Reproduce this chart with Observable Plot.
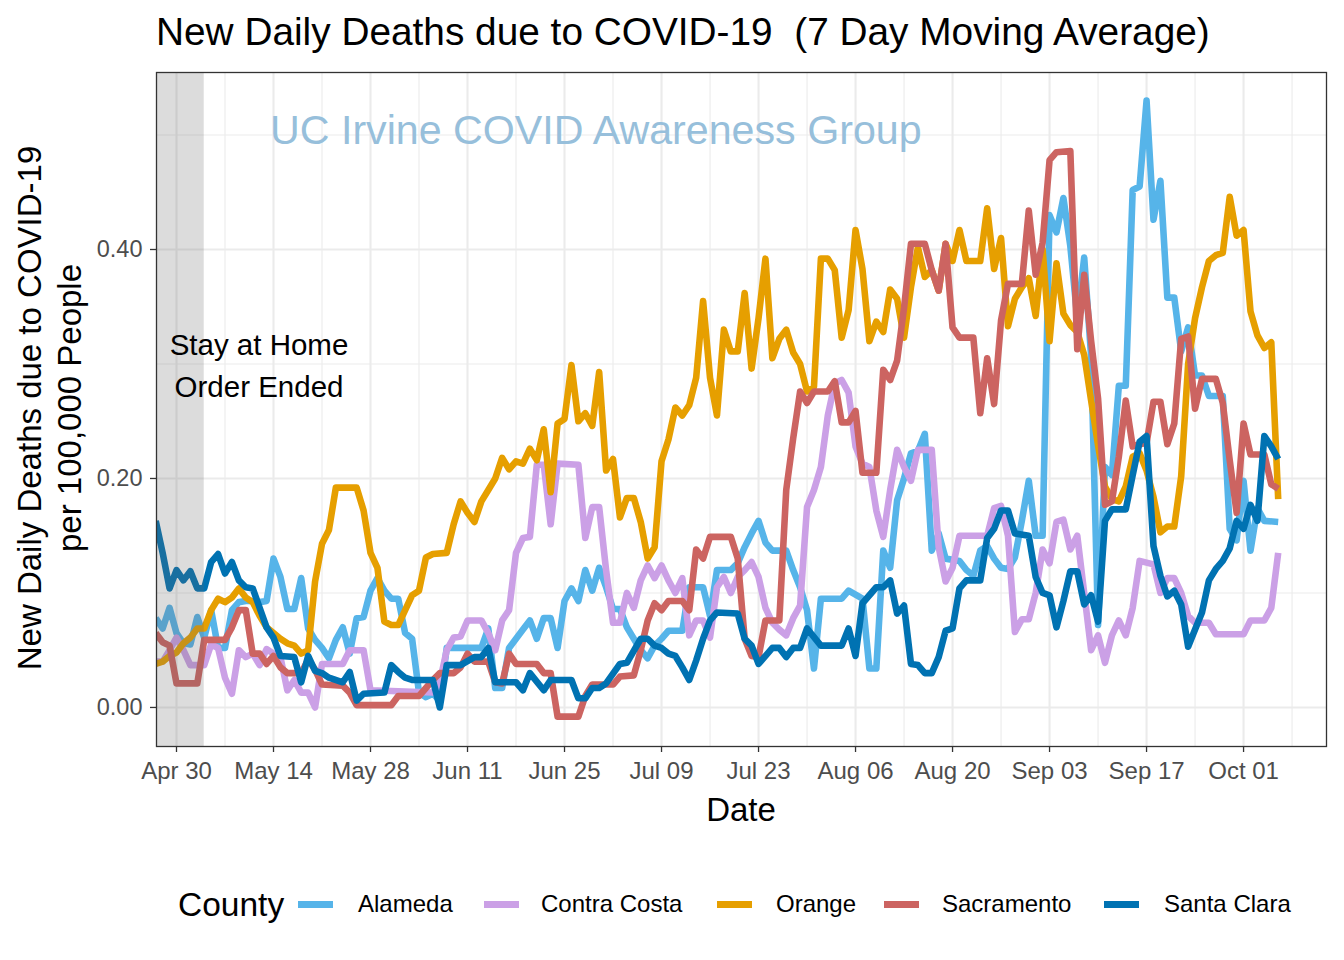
<!DOCTYPE html>
<html>
<head>
<meta charset="utf-8">
<script src="https://cdn.jsdelivr.net/npm/d3@7"></script>
<script src="https://cdn.jsdelivr.net/npm/@observablehq/plot@0.6"></script>
<style>
  html, body { margin: 0; padding: 0; background: #ffffff; }
  #wrap { position: relative; width: 1344px; height: 960px; overflow: hidden; font-family: "Liberation Sans", Arial, Helvetica, sans-serif; color: #000; }
  #wrap svg { position: absolute; left: 0; top: 0; }
  .t { position: absolute; white-space: pre; line-height: 1; }
</style>
</head>
<body>
<div id="wrap"></div>
<script>
// ---------------- data ----------------
const countyNames  = ["Alameda", "Contra Costa", "Orange", "Sacramento", "Santa Clara"];
const countyColors = ["#56B4E9", "#CBA0E6", "#E69F00", "#CC6461", "#0072B2"];

const alameda = [
["04-27",0.078],["04-28",0.069],["04-29",0.087],["04-30",0.065],["05-01",0.056],["05-02",0.055],["05-03",0.079],["05-04",0.061],["05-05",0.085],["05-06",0.052],["05-07",0.052],["05-08",0.085],["05-09",0.092],["05-10",0.093],["05-11",0.093],["05-12",0.092],["05-13",0.093],["05-14",0.130],["05-15",0.114],["05-16",0.086],["05-17",0.086],["05-18",0.113],["05-19",0.069],["05-20",0.059],["05-21",0.052],["05-22",0.043],["05-23",0.059],["05-24",0.070],["05-25",0.047],["05-26",0.078],["05-27",0.079],["05-28",0.102],["05-29",0.113],["05-30",0.102],["05-31",0.095],["06-01",0.095],["06-02",0.065],["06-03",0.060],["06-04",0.013],["06-05",0.009],["06-06",0.012],["06-07",0.006],["06-08",0.052],["06-13",0.052],["06-14",0.069],["06-15",0.017],["06-16",0.017],["06-17",0.052],["06-18",0.060],["06-19",0.068],["06-20",0.076],["06-21",0.060],["06-22",0.078],["06-23",0.078],["06-24",0.052],["06-25",0.093],["06-26",0.104],["06-27",0.093],["06-28",0.120],["06-29",0.102],["06-30",0.122],["07-01",0.105],["07-02",0.086],["07-03",0.086],["07-04",0.070],["07-05",0.060],["07-06",0.050],["07-07",0.043],["07-08",0.054],["07-09",0.060],["07-10",0.067],["07-12",0.067],["07-13",0.105],["07-15",0.105],["07-16",0.080],["07-17",0.120],["07-19",0.120],["07-20",0.126],["07-21",0.140],["07-22",0.152],["07-23",0.163],["07-24",0.144],["07-25",0.137],["07-27",0.137],["07-28",0.120],["07-29",0.105],["07-30",0.085],["07-31",0.034],["08-01",0.095],["08-04",0.095],["08-05",0.102],["08-07",0.095],["08-08",0.034],["08-09",0.034],["08-10",0.137],["08-11",0.122],["08-12",0.181],["08-13",0.200],["08-14",0.222],["08-15",0.224],["08-16",0.239],["08-17",0.137],["08-18",0.152],["08-19",0.130],["08-21",0.128],["08-22",0.120],["08-23",0.115],["08-24",0.137],["08-25",0.141],["08-26",0.130],["08-27",0.122],["08-28",0.121],["08-29",0.131],["08-30",0.163],["08-31",0.198],["09-01",0.150],["09-02",0.150],["09-03",0.430],["09-04",0.415],["09-05",0.445],["09-06",0.403],["09-07",0.340],["09-08",0.393],["09-09",0.307],["09-10",0.072],["09-11",0.210],["09-12",0.203],["09-13",0.281],["09-14",0.281],["09-15",0.452],["09-16",0.455],["09-17",0.530],["09-18",0.426],["09-19",0.460],["09-20",0.358],["09-21",0.358],["09-22",0.311],["09-23",0.332],["09-24",0.290],["09-25",0.290],["09-26",0.272],["09-28",0.272],["09-29",0.156],["09-30",0.146],["10-01",0.198],["10-02",0.137],["10-03",0.174],["10-04",0.163],["10-06",0.162]
];

const contraCosta = [
["04-27",0.040],["04-28",0.040],["04-29",0.050],["04-30",0.061],["05-01",0.050],["05-02",0.037],["05-04",0.037],["05-05",0.055],["05-06",0.052],["05-07",0.026],["05-08",0.012],["05-09",0.050],["05-10",0.044],["05-11",0.047],["05-12",0.037],["05-13",0.051],["05-14",0.047],["05-15",0.044],["05-16",0.015],["05-17",0.024],["05-18",0.013],["05-19",0.013],["05-20",0.000],["05-21",0.038],["05-24",0.038],["05-25",0.050],["05-27",0.050],["05-28",0.015],["06-06",0.013],["06-07",0.022],["06-08",0.050],["06-09",0.061],["06-10",0.062],["06-11",0.076],["06-13",0.076],["06-14",0.065],["06-15",0.050],["06-16",0.076],["06-17",0.085],["06-18",0.135],["06-19",0.148],["06-20",0.149],["06-21",0.212],["06-22",0.212],["06-23",0.160],["06-24",0.213],["06-27",0.212],["06-28",0.148],["06-29",0.175],["06-30",0.175],["07-01",0.120],["07-02",0.074],["07-03",0.074],["07-04",0.100],["07-05",0.087],["07-06",0.111],["07-07",0.124],["07-08",0.113],["07-09",0.124],["07-10",0.111],["07-11",0.100],["07-12",0.113],["07-13",0.063],["07-14",0.076],["07-15",0.076],["07-16",0.061],["07-17",0.105],["07-18",0.114],["07-19",0.100],["07-20",0.114],["07-21",0.120],["07-22",0.127],["07-23",0.114],["07-24",0.087],["07-25",0.074],["07-26",0.068],["07-27",0.063],["07-28",0.078],["07-29",0.089],["07-30",0.175],["07-31",0.190],["08-01",0.210],["08-02",0.255],["08-03",0.283],["08-04",0.286],["08-05",0.275],["08-06",0.228],["08-07",0.213],["08-08",0.210],["08-09",0.172],["08-10",0.149],["08-11",0.190],["08-12",0.225],["08-13",0.210],["08-14",0.198],["08-15",0.225],["08-17",0.225],["08-18",0.140],["08-19",0.110],["08-20",0.122],["08-21",0.150],["08-25",0.150],["08-26",0.174],["08-27",0.176],["08-28",0.150],["08-29",0.066],["08-30",0.077],["08-31",0.077],["09-01",0.100],["09-02",0.138],["09-03",0.126],["09-04",0.162],["09-05",0.164],["09-06",0.138],["09-07",0.150],["09-08",0.100],["09-09",0.050],["09-10",0.063],["09-11",0.039],["09-12",0.063],["09-13",0.076],["09-14",0.063],["09-15",0.087],["09-16",0.128],["09-18",0.125],["09-19",0.100],["09-20",0.113],["09-21",0.113],["09-22",0.100],["09-23",0.080],["09-24",0.074],["09-26",0.074],["09-27",0.064],["10-01",0.064],["10-02",0.076],["10-04",0.076],["10-05",0.087],["10-06",0.135]
];

const orange = [
["04-27",0.038],["04-28",0.040],["04-29",0.045],["04-30",0.048],["05-01",0.056],["05-02",0.061],["05-03",0.069],["05-04",0.069],["05-05",0.085],["05-06",0.095],["05-07",0.092],["05-08",0.096],["05-09",0.104],["05-10",0.096],["05-11",0.092],["05-12",0.080],["05-13",0.070],["05-14",0.065],["05-15",0.060],["05-16",0.056],["05-17",0.054],["05-18",0.047],["05-19",0.050],["05-20",0.110],["05-21",0.143],["05-22",0.155],["05-23",0.192],["05-26",0.192],["05-27",0.172],["05-28",0.135],["05-29",0.122],["05-30",0.075],["05-31",0.072],["06-01",0.072],["06-02",0.085],["06-03",0.098],["06-04",0.102],["06-05",0.131],["06-06",0.134],["06-08",0.135],["06-09",0.160],["06-10",0.180],["06-11",0.170],["06-12",0.162],["06-13",0.180],["06-14",0.190],["06-15",0.200],["06-16",0.218],["06-17",0.208],["06-18",0.215],["06-19",0.213],["06-20",0.226],["06-21",0.216],["06-22",0.243],["06-23",0.188],["06-24",0.248],["06-25",0.252],["06-26",0.299],["06-27",0.250],["06-28",0.257],["06-29",0.246],["06-30",0.293],["07-01",0.207],["07-02",0.217],["07-03",0.166],["07-04",0.183],["07-05",0.183],["07-06",0.162],["07-07",0.130],["07-08",0.140],["07-09",0.215],["07-10",0.234],["07-11",0.262],["07-12",0.255],["07-13",0.264],["07-14",0.288],["07-15",0.355],["07-16",0.288],["07-17",0.255],["07-18",0.330],["07-19",0.311],["07-20",0.311],["07-21",0.362],["07-22",0.296],["07-23",0.340],["07-24",0.392],["07-25",0.305],["07-26",0.322],["07-27",0.330],["07-28",0.310],["07-29",0.300],["07-30",0.276],["07-31",0.280],["08-01",0.392],["08-02",0.392],["08-03",0.382],["08-04",0.323],["08-05",0.347],["08-06",0.417],["08-07",0.383],["08-08",0.320],["08-09",0.337],["08-10",0.328],["08-11",0.365],["08-12",0.357],["08-13",0.323],["08-14",0.367],["08-15",0.402],["08-16",0.376],["08-17",0.382],["08-18",0.364],["08-19",0.405],["08-20",0.390],["08-21",0.417],["08-22",0.390],["08-24",0.390],["08-25",0.436],["08-26",0.383],["08-27",0.410],["08-28",0.333],["08-29",0.357],["08-30",0.367],["08-31",0.375],["09-01",0.342],["09-02",0.400],["09-03",0.320],["09-04",0.388],["09-05",0.344],["09-06",0.334],["09-07",0.328],["09-08",0.308],["09-09",0.268],["09-10",0.229],["09-11",0.193],["09-12",0.182],["09-13",0.180],["09-14",0.193],["09-15",0.219],["09-16",0.222],["09-17",0.207],["09-18",0.184],["09-19",0.153],["09-20",0.158],["09-21",0.158],["09-22",0.202],["09-23",0.300],["09-24",0.340],["09-25",0.367],["09-26",0.390],["09-27",0.395],["09-28",0.397],["09-29",0.446],["09-30",0.412],["10-01",0.417],["10-02",0.346],["10-03",0.325],["10-04",0.314],["10-05",0.319],["10-06",0.182]
];

const sacramento = [
["04-27",0.065],["04-28",0.057],["04-29",0.054],["04-30",0.021],["05-03",0.021],["05-04",0.059],["05-07",0.059],["05-08",0.070],["05-09",0.085],["05-10",0.085],["05-11",0.047],["05-12",0.047],["05-13",0.038],["05-14",0.045],["05-15",0.035],["05-16",0.030],["05-18",0.030],["05-19",0.042],["05-20",0.033],["05-21",0.020],["05-24",0.019],["05-25",0.013],["05-26",0.002],["05-31",0.002],["06-01",0.010],["06-04",0.010],["06-05",0.017],["06-06",0.024],["06-07",0.030],["06-09",0.030],["06-10",0.035],["06-11",0.047],["06-12",0.040],["06-14",0.040],["06-15",0.022],["06-16",0.021],["06-17",0.047],["06-18",0.038],["06-21",0.038],["06-22",0.030],["06-23",0.030],["06-24",-0.008],["06-27",-0.008],["06-28",0.010],["06-29",0.020],["07-02",0.020],["07-03",0.027],["07-05",0.028],["07-06",0.050],["07-07",0.076],["07-08",0.091],["07-09",0.085],["07-10",0.093],["07-12",0.093],["07-13",0.085],["07-14",0.138],["07-15",0.130],["07-16",0.149],["07-19",0.149],["07-20",0.130],["07-21",0.060],["07-22",0.045],["07-23",0.044],["07-24",0.076],["07-26",0.076],["07-27",0.190],["07-28",0.235],["07-29",0.276],["07-30",0.266],["07-31",0.276],["08-02",0.276],["08-03",0.285],["08-04",0.249],["08-05",0.249],["08-06",0.259],["08-07",0.205],["08-09",0.205],["08-10",0.295],["08-11",0.286],["08-12",0.303],["08-13",0.349],["08-14",0.405],["08-16",0.405],["08-17",0.382],["08-18",0.364],["08-19",0.405],["08-20",0.332],["08-21",0.323],["08-23",0.323],["08-24",0.257],["08-25",0.305],["08-26",0.265],["08-27",0.338],["08-28",0.370],["08-30",0.370],["08-31",0.434],["09-01",0.378],["09-02",0.406],["09-03",0.478],["09-04",0.485],["09-06",0.486],["09-07",0.313],["09-08",0.378],["09-09",0.320],["09-10",0.270],["09-11",0.177],["09-12",0.180],["09-13",0.219],["09-14",0.268],["09-15",0.228],["09-16",0.230],["09-17",0.231],["09-18",0.267],["09-19",0.267],["09-20",0.230],["09-21",0.248],["09-22",0.322],["09-23",0.324],["09-24",0.261],["09-25",0.287],["09-27",0.287],["09-28",0.266],["09-29",0.216],["09-30",0.170],["10-01",0.248],["10-02",0.221],["10-04",0.221],["10-05",0.195],["10-06",0.191]
];

const santaClara = [
["04-27",0.163],["04-28",0.135],["04-29",0.104],["04-30",0.120],["05-01",0.111],["05-02",0.119],["05-03",0.104],["05-04",0.104],["05-05",0.127],["05-06",0.134],["05-07",0.117],["05-08",0.127],["05-09",0.111],["05-10",0.105],["05-11",0.104],["05-12",0.087],["05-13",0.070],["05-14",0.061],["05-15",0.045],["05-17",0.044],["05-18",0.022],["05-19",0.045],["05-20",0.032],["05-21",0.030],["05-22",0.026],["05-24",0.022],["05-25",0.031],["05-26",0.006],["05-27",0.012],["05-30",0.013],["05-31",0.037],["06-01",0.031],["06-02",0.026],["06-03",0.024],["06-06",0.024],["06-07",0.000],["06-08",0.037],["06-10",0.037],["06-12",0.044],["06-13",0.044],["06-14",0.052],["06-15",0.022],["06-18",0.022],["06-19",0.015],["06-20",0.030],["06-22",0.015],["06-23",0.024],["06-26",0.024],["06-27",0.008],["06-28",0.008],["06-29",0.017],["06-30",0.017],["07-01",0.021],["07-03",0.038],["07-04",0.039],["07-06",0.060],["07-07",0.060],["07-08",0.054],["07-09",0.052],["07-10",0.047],["07-11",0.045],["07-12",0.035],["07-13",0.024],["07-14",0.041],["07-15",0.060],["07-16",0.076],["07-17",0.083],["07-20",0.082],["07-21",0.060],["07-22",0.054],["07-23",0.038],["07-25",0.052],["07-26",0.052],["07-27",0.044],["07-28",0.052],["07-29",0.052],["07-30",0.069],["08-01",0.054],["08-04",0.054],["08-05",0.069],["08-06",0.045],["08-07",0.091],["08-09",0.105],["08-10",0.105],["08-11",0.111],["08-12",0.082],["08-13",0.089],["08-14",0.038],["08-15",0.037],["08-16",0.030],["08-17",0.030],["08-18",0.044],["08-19",0.067],["08-20",0.069],["08-21",0.104],["08-22",0.111],["08-24",0.111],["08-25",0.148],["08-26",0.156],["08-27",0.172],["08-28",0.172],["08-29",0.152],["08-31",0.150],["09-01",0.114],["09-02",0.100],["09-03",0.098],["09-04",0.070],["09-05",0.093],["09-06",0.119],["09-07",0.119],["09-08",0.090],["09-09",0.098],["09-10",0.075],["09-11",0.163],["09-12",0.173],["09-14",0.173],["09-15",0.203],["09-16",0.232],["09-17",0.237],["09-18",0.141],["09-19",0.115],["09-20",0.097],["09-21",0.102],["09-22",0.090],["09-23",0.053],["09-24",0.068],["09-25",0.083],["09-26",0.111],["09-27",0.121],["09-28",0.128],["09-29",0.139],["09-30",0.163],["10-01",0.156],["10-02",0.177],["10-03",0.163],["10-04",0.237],["10-05",0.228],["10-06",0.217]
];

const seriesList = [alameda, contraCosta, orange, sacramento, santaClara];

const xTickDates = ["2020-04-30","2020-05-14","2020-05-28","2020-06-11","2020-06-25","2020-07-09","2020-07-23","2020-08-06","2020-08-20","2020-09-03","2020-09-17","2020-10-01"];
const xMinorDates = ["2020-05-07","2020-05-21","2020-06-04","2020-06-18","2020-07-02","2020-07-16","2020-07-30","2020-08-13","2020-08-27","2020-09-10","2020-09-24","2020-10-08"];
const yTicks = [0, 0.2, 0.4];
const yMinor = [0.1, 0.3, 0.5];
const xDomain = ["2020-04-27T02:44:00Z", "2020-10-12T23:17:00Z"];
const yDomain = [-0.0341, 0.5546];
const shade = [{start: "2020-04-27", end: "2020-05-04"}];

const titleText = "New Daily Deaths due to COVID-19  (7 Day Moving Average)";
const watermarkText = "UC Irvine COVID Awareness Group";
const noteLines = ["Stay at Home", "Order Ended"];
const yTitleLines = ["New Daily Deaths due to COVID-19", "per 100,000 People"];
const xTitle = "Date";
const legendTitle = "County";

// ---------------- build ----------------
const parse = d3.utcParse("%Y-%m-%d");
const pd = s => parse(s.slice(0, 10));
const rows = [];
countyNames.forEach((name, i) => {
  seriesList[i].forEach(([md, v]) => rows.push({county: name, date: parse("2020-" + md), value: v}));
});

const FONT = '"Liberation Sans", Arial, Helvetica, sans-serif';
const chart = Plot.plot({
  width: 1344,
  height: 840,
  marginTop: 72,
  marginLeft: 156,
  marginRight: 18,
  marginBottom: 94,
  style: {fontFamily: FONT, background: "transparent", overflow: "visible"},
  x: {type: "utc", domain: xDomain.map(d => new Date(d))},
  y: {domain: yDomain},
  color: {domain: countyNames, range: countyColors},
  marks: [
    Plot.ruleX(xMinorDates.map(pd), {stroke: "#ebebeb", strokeWidth: 1.1}),
    Plot.ruleY(yMinor, {stroke: "#ebebeb", strokeWidth: 1.1}),
    Plot.ruleX(xTickDates.map(pd), {stroke: "#ebebeb", strokeWidth: 2.1}),
    Plot.ruleY(yTicks, {stroke: "#ebebeb", strokeWidth: 2.1}),
    Plot.line(rows, {x: "date", y: "value", z: "county", stroke: "county", strokeWidth: 6.6, strokeLinejoin: "round", strokeLinecap: "butt", clip: true}),
    Plot.rect(shade, {x1: d => pd(d.start), x2: d => pd(d.end), fill: "#666666", fillOpacity: 0.23, clip: true}),
    Plot.frame({stroke: "#333333", strokeWidth: 1.3}),
    Plot.axisX({ticks: xTickDates.map(pd), tickFormat: d3.utcFormat("%b %d"), tickSize: 6, tickPadding: 9, fontSize: 24, stroke: "#333333", strokeWidth: 1.3, fill: "#4d4d4d", label: null}),
    Plot.axisY({ticks: yTicks, tickFormat: d3.format(".2f"), tickSize: 6, tickPadding: 8, fontSize: 23.5, stroke: "#333333", strokeWidth: 1.3, fill: "#4d4d4d", label: null})
  ]
});

const wrap = document.getElementById("wrap");
wrap.appendChild(chart);

// text helper: place text so that its baseline sits at `baseline` (Liberation Sans metrics)
function addText(str, {left, center, baseline, size, color = "#000"}) {
  const el = document.createElement("div");
  el.className = "t";
  el.textContent = str;
  el.style.fontSize = size + "px";
  el.style.color = color;
  el.style.top = (baseline - 0.8465 * size) + "px";
  wrap.appendChild(el);
  if (center !== undefined) {
    const w = el.getBoundingClientRect().width;
    el.style.left = (center - w / 2) + "px";
  } else {
    el.style.left = left + "px";
  }
  return el;
}

// title
addText(titleText, {left: 156, baseline: 46, size: 38.8});
// watermark
addText(watermarkText, {left: 270, baseline: 145, size: 41.2, color: "#97bfdb"});
// annotation
addText(noteLines[0], {center: 259, baseline: 354.5, size: 29.5});
addText(noteLines[1], {center: 259, baseline: 396.5, size: 29.5});
// x title
addText(xTitle, {center: 741, baseline: 821, size: 33});

// y title (rotated, two lines)
const yt = document.createElement("div");
yt.style.position = "absolute";
yt.style.width = "700px";
yt.style.height = "80px";
yt.style.left = (50 - 350) + "px";
yt.style.top = (408 - 40) + "px";
yt.style.fontSize = "33px";
yt.style.lineHeight = "40px";
yt.style.textAlign = "center";
yt.style.transform = "rotate(-90deg)";
yt.style.transformOrigin = "50% 50%";
yt.style.whiteSpace = "pre";
yt.textContent = yTitleLines.join("\n");
wrap.appendChild(yt);

// legend
addText(legendTitle, {left: 178, baseline: 916, size: 33.5});
const keyLefts = [298, 484, 717, 884, 1104];
const labelLefts = [358, 541, 776, 942, 1164];
countyNames.forEach((name, i) => {
  const k = document.createElement("div");
  k.style.position = "absolute";
  k.style.left = keyLefts[i] + "px";
  k.style.top = (904 - 3.5) + "px";
  k.style.width = "35px";
  k.style.height = "7px";
  k.style.background = countyColors[i];
  wrap.appendChild(k);
  addText(name, {left: labelLefts[i], baseline: 912.5, size: 24});
});
</script>
</body>
</html>
